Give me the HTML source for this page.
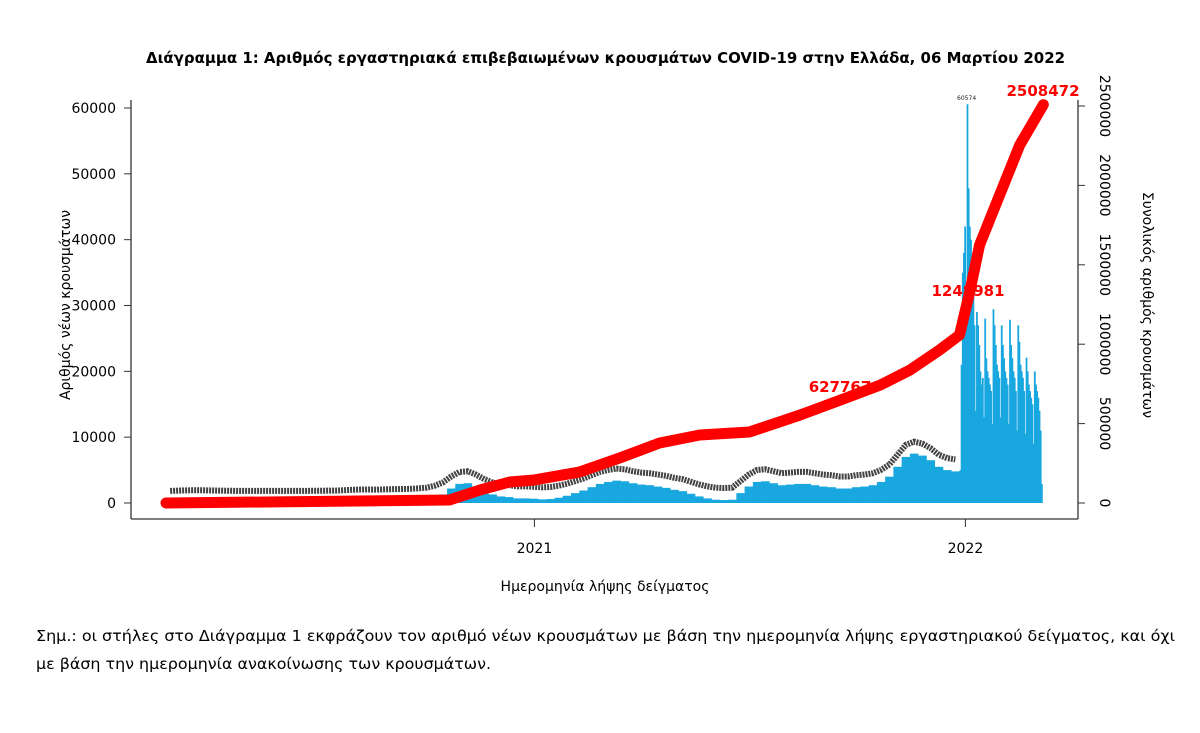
<!DOCTYPE html>
<html><head><meta charset="utf-8"><style>
body{margin:0;background:#fff;}
svg{display:block;font-family:"DejaVu Sans","Liberation Sans",sans-serif;}
</style></head><body>
<svg width="1200" height="733" viewBox="0 0 1200 733">
<text x="146" y="63" font-size="15" font-weight="bold" textLength="919" lengthAdjust="spacingAndGlyphs">Διάγραμμα 1: Αριθμός εργαστηριακά επιβεβαιωμένων κρουσμάτων COVID-19 στην Ελλάδα, 06 Μαρτίου 2022</text>
<g id="bars"></g>
<g id="labels"></g>
<g id="cum"></g>
<g id="axes"></g>
<text transform="translate(70,305) rotate(-90)" text-anchor="middle" font-size="14">Αριθμός νέων κρουσμάτων</text>
<text transform="translate(1143,305) rotate(90)" text-anchor="middle" font-size="14">Συνολικός αριθμός κρουσμάτων</text>
<text x="605" y="591" text-anchor="middle" font-size="14">Ημερομηνία λήψης δείγματος</text>
<text x="36" y="641" font-size="15" textLength="1139" lengthAdjust="spacingAndGlyphs">Σημ.: οι στήλες στο Διάγραμμα 1 εκφράζουν τον αριθμό νέων κρουσμάτων με βάση την ημερομηνία λήψης εργαστηριακού δείγματος, και όχι</text>
<text x="36" y="669" font-size="15" textLength="455" lengthAdjust="spacingAndGlyphs">με βάση την ημερομηνία ανακοίνωσης των κρουσμάτων.</text>
</svg>
<script>
const weeklyCases = [10,60,100,120,110, 80,60,40,20,15, 10,10,15,15,20, 20,25,30,35,50, 60,120,180,220,230,
 200,250,280,300,320, 400,500,800,1300,2200, 2900,3000,2500,1800,1300, 1000,900,700,700,650,
 550,600,800,1100,1500, 1900,2400,2900,3200,3400, 3300,3000,2800,2700,2500, 2300,2000,1800,1400,1000,
 700,500,450,500,1500, 2500,3200,3300,3000,2700, 2800,2900,2900,2700,2500, 2400,2200,2200,2400,2500,
 2700,3200,4000,5500,7000, 7500,7200,6500,5500,5000, 4800];
const dailyCases2022 = [5000,21000,35000,38000,42000,31000,60574,
 47795,42000,40000,33000,35000,27000,14000,
 29000,27000,24000,20000,18000,19000,13000,
 28000,22000,20000,19000,18000,17000,12000,
 29438,27000,24000,21000,20000,19000,13000,
 27000,24000,22000,20000,19000,18000,12000,
 27835,24000,22000,20000,19000,17000,11000,
 27000,24483,21000,20000,19000,17000,10500,
 22068,20000,18000,17000,16000,15000,9000,
 20000,18000,17000,16000,14000,11000,2900];
const cumDays = [0,240,266,291,312,350,384,418,452,494,537,571,605,630,655,672,681,689,706,723,743];
const cumValues = [0,19000,82000,132000,145000,195000,283000,378000,428000,447000,554000,648000,743000,837000,963000,1058000,1341000,1625000,1940000,2254000,2508472];
const leftTicks = [0,10000,20000,30000,40000,50000,60000];
const rightTicks = [0,500000,1000000,1500000,2000000,2500000];
const yearTicks = [{label:"2021",day:312},{label:"2022",day:677}];

const NS="http://www.w3.org/2000/svg";
const x0=166, pxPerDay=431/365;
const xDay=d=>x0+d*pxPerDay;
const yL=v=>503-v*(395/60000);
const yR=v=>503-v*(397/2500000);
function mk(t,a,p){const e=document.createElementNS(NS,t);for(const k in a)e.setAttribute(k,a[k]);p.appendChild(e);return e;}
const bars=document.getElementById('bars'), labels=document.getElementById('labels'), cum=document.getElementById('cum'), axes=document.getElementById('axes');

weeklyCases.forEach((v,i)=>{
  const r=mk('rect',{x:xDay(i*7),y:yL(v),width:7*pxPerDay+0.3,height:503-yL(v),fill:'#19a7df'},bars);
  
  
});
const start2022=weeklyCases.length*7;
dailyCases2022.forEach((v,i)=>{
  const r=mk('rect',{x:xDay(start2022+i),y:yL(v),width:pxPerDay+0.6,height:503-yL(v),fill:'#19a7df'},bars);
  
  
});
let pts=weeklyCases.map((v,i)=>xDay(i*7+3.5)+','+(yL(v)-12)).join(' ');
const band=mk('polyline',{points:pts,fill:'none',stroke:'#222','stroke-width':6,'stroke-dasharray':'2 1',opacity:0.85},labels);


const pk=dailyCases2022.indexOf(Math.max(...dailyCases2022));
const pl=mk('text',{x:xDay(start2022+pk),y:yL(dailyCases2022[pk])-4,'font-size':6,'text-anchor':'middle',fill:'#222'},labels);
pl.textContent=String(dailyCases2022[pk]);



const cp=cumDays.map((d,i)=>xDay(d)+','+yR(cumValues[i])).join(' ');
const line=mk('polyline',{points:cp,fill:'none',stroke:'#f00','stroke-width':11,'stroke-linecap':'round','stroke-linejoin':'round'},cum);


[[627767,840,392],[1248981,968,296],[2508472,1043,96]].forEach(a=>{
  const t=mk('text',{x:a[1],y:a[2],'font-size':15,'font-weight':'bold',fill:'#f00','text-anchor':'middle'},cum);
  t.textContent=String(a[0]);
  
  
});

mk('line',{x1:131,y1:100,x2:131,y2:519,stroke:'#333','stroke-width':1.3},axes);
mk('line',{x1:131,y1:519,x2:1078,y2:519,stroke:'#333','stroke-width':1.3},axes);
mk('line',{x1:1078,y1:100,x2:1078,y2:519,stroke:'#333','stroke-width':1.3},axes);
leftTicks.forEach(v=>{
  mk('line',{x1:124,y1:yL(v),x2:131,y2:yL(v),stroke:'#333'},axes);
  const t=mk('text',{x:116,y:yL(v)+5,'font-size':14,'text-anchor':'end'},axes);
  t.textContent=String(v);
  
  
});
rightTicks.forEach(v=>{
  mk('line',{x1:1078,y1:yR(v),x2:1085,y2:yR(v),stroke:'#333'},axes);
  const t=mk('text',{transform:`translate(1100,${yR(v)}) rotate(90)`,'font-size':14,'text-anchor':'middle'},axes);
  t.textContent=String(v);
  
  
});
yearTicks.forEach(o=>{
  mk('line',{x1:xDay(o.day),y1:519,x2:xDay(o.day),y2:527,stroke:'#333'},axes);
  const t=mk('text',{x:xDay(o.day),y:553,'font-size':14,'text-anchor':'middle'},axes);
  t.textContent=o.label;
  
  
});
</script>
</body></html>
